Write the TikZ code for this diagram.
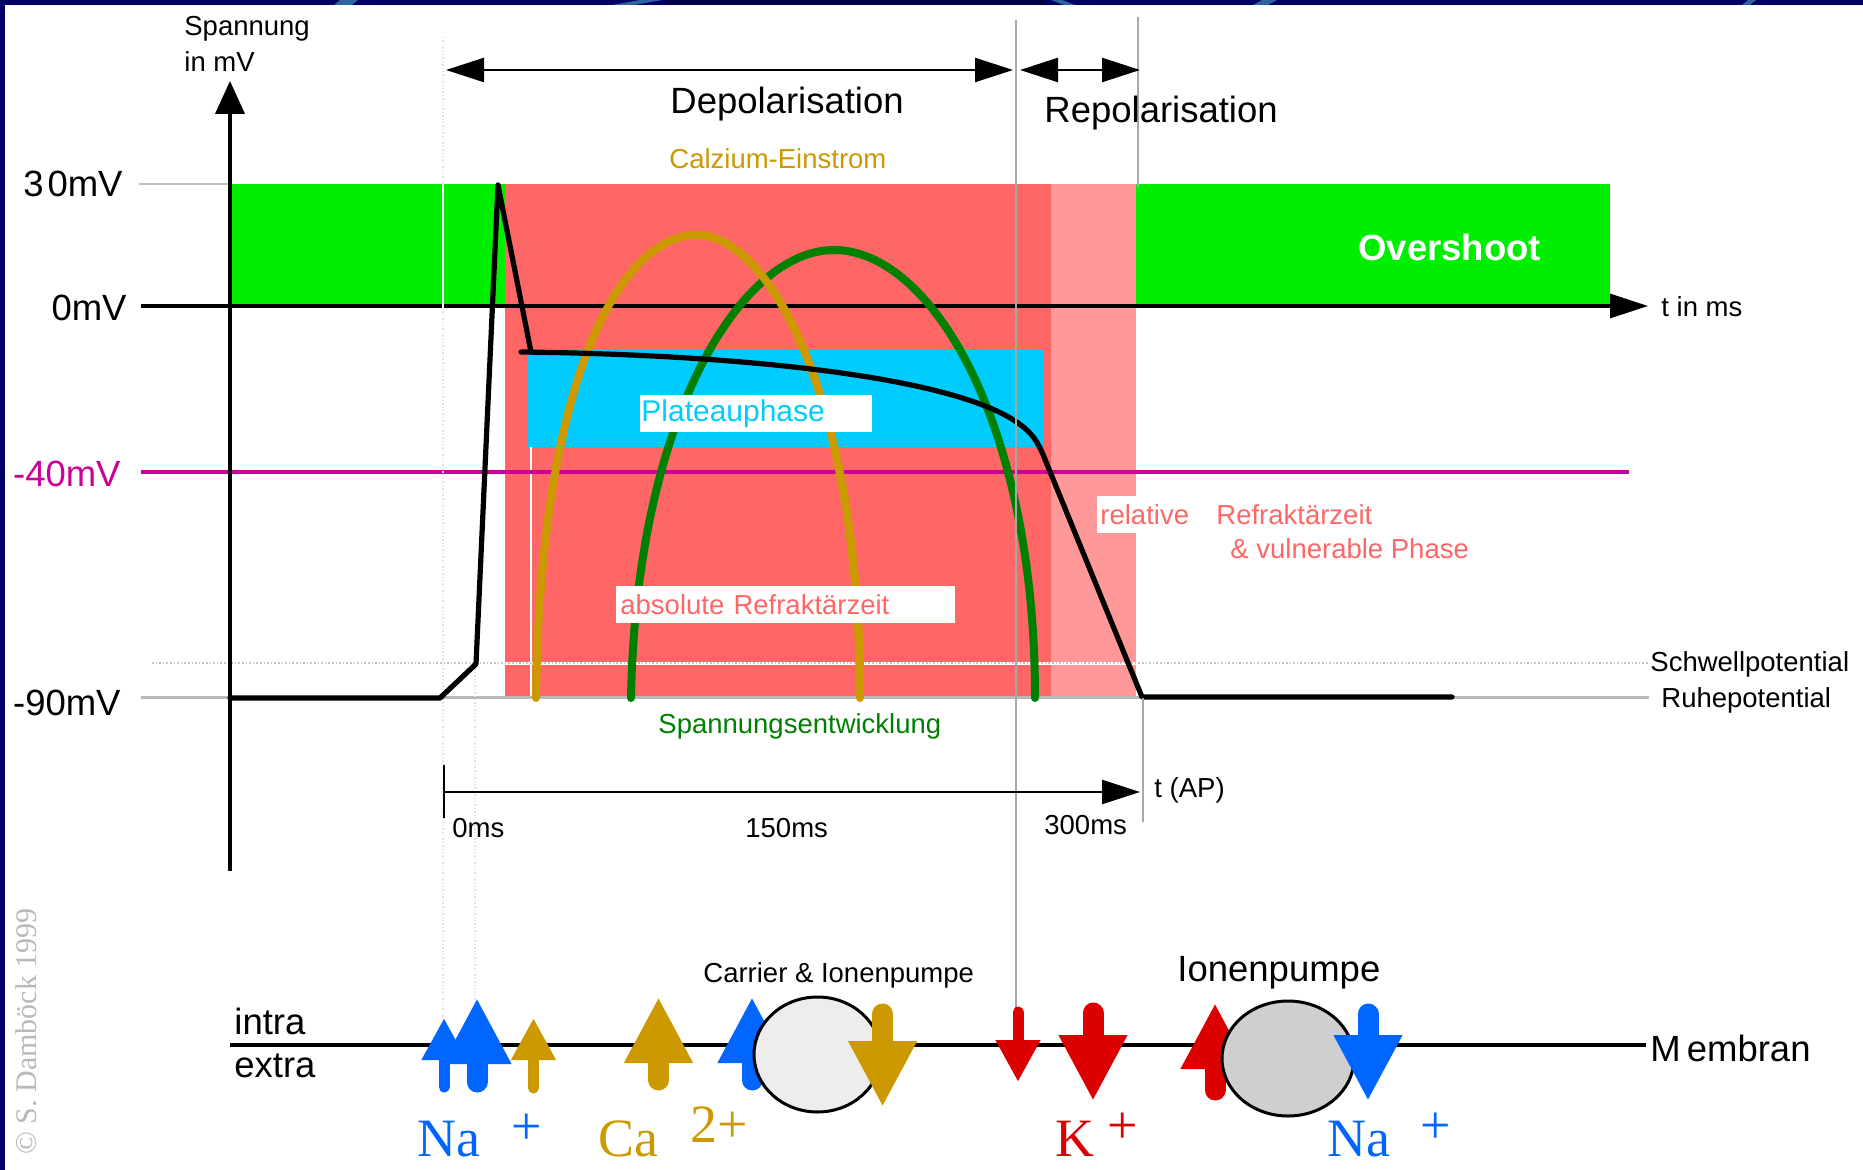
\documentclass[tikz,border=0pt]{standalone}
\usepackage{fontspec}
\setmainfont{Liberation Sans}
\newfontfamily\ionfont{Liberation Serif}
\usetikzlibrary{arrows.meta,shapes.geometric}

\definecolor{navy}{HTML}{000066}
\definecolor{navydark}{HTML}{00004A}
\definecolor{streak}{HTML}{2F639E}
\definecolor{ovgreen}{HTML}{00EE00}
\definecolor{absred}{HTML}{FF6666}
\definecolor{relred}{HTML}{FF9999}
\definecolor{plateaublue}{HTML}{00CCFF}
\definecolor{threshmag}{HTML}{CC0099}
\definecolor{calgold}{HTML}{CC9900}
\definecolor{volgreen}{HTML}{008000}
\definecolor{nablue}{HTML}{0066FF}
\definecolor{kred}{HTML}{DD0000}
\definecolor{guidegray}{HTML}{A8A8A8}
\definecolor{faintblue}{HTML}{D4E4F6}

\newcommand{\headtxt}{\fontsize{18.25pt}{22pt}\selectfont}
\newcommand{\lbltxt}{\fontsize{13.75pt}{16pt}\selectfont}
\newcommand{\iontxt}{\ionfont\fontsize{27pt}{30pt}\selectfont}

\begin{document}
\begin{tikzpicture}[
  x = 0.5pt, y = -0.5pt,
  every node/.style = {inner sep = 0pt, anchor = west},
  big/.style = {font = \headtxt},
  small/.style = {font = \lbltxt},
  ion/.style = {font = \iontxt, anchor = base west},
  tag/.style = {small, fill = white, minimum height = 18.5pt, align = left},
  phasearrow/.style = {line width = 1.2pt, {Triangle[length=19pt,width=12pt]}-{Triangle[length=19pt,width=12pt]}},
  taxis/.style = {line width = 1.6pt, -{Triangle[length=19pt,width=12pt]}},
  guide/.style = {guidegray, line width = 1.3pt},
  faint/.style = {faintblue, line width = 0.7pt, densely dotted},
  apline/.style = {line width = 2.6pt, line cap = round, line join = round},
  ionthin/.style = {line cap = round, line width = 5.5pt, -{Triangle[length=21pt,width=21pt]}},
  ionthick/.style = {line cap = round, line width = 10.5pt, -{Triangle[length=33pt,width=32pt]}},
  pump/.style = {draw, line width = 1.5pt, ellipse, anchor = center},
  ]
  \useasboundingbox (0,0) rectangle (1863,1170);
  \fill[white] (0,0) rectangle (1863,1170);
  \fill[navy] (0,0) rectangle (1863,5);
  \fill[navy] (0,0) rectangle (5,1170);
  \fill[navydark] (665,0) rectangle (1045,5);
  \fill[streak] (340,0) -- (358,0) -- (352,5) -- (334,5) -- cycle;
  \fill[streak] (640,0) -- (662,0) -- (634,5) -- (612,5) -- cycle;
  \fill[streak] (1051,0) -- (1062,0) -- (1075,5) -- (1064,5) -- cycle;
  \fill[streak] (1262,0) -- (1277,0) -- (1268,5) -- (1253,5) -- cycle;
  \fill[streak] (1748,0) -- (1756,0) -- (1750,5) -- (1742,5) -- cycle;

  \fill[ovgreen] (230,184) rectangle (505,308);
  \fill[ovgreen] (1136,184) rectangle (1610,308);
  \fill[absred] (505,184) rectangle (1051,697);
  \fill[relred] (1051,184) rectangle (1136,697);
  \fill[plateaublue] (527,350) rectangle (1043,447);
  \draw[white, line width = 0.8pt] (531,447) -- (531,697);

  \draw[white, line width = 1.5pt] (152,663) -- (1648,663);
  \draw[gray!45, line width = 0.8pt, densely dotted] (152,663) -- (1648,663);
  \draw[gray!55, line width = 1.4pt] (141,697.5) -- (1649,697.5);
  \draw[gray!50, line width = 1.2pt] (139,184) -- (230,184);
  \draw[threshmag, line width = 1.6pt] (141,472) -- (1629,472);

  \coordinate (xstart) at (141,306);
  \coordinate (xend) at (1648,306);
  \draw[taxis] (xstart) -- (xend);
  \coordinate (ybottom) at (230,871);
  \coordinate (ytop) at (230,81);
  \draw[line width = 2pt, -{Triangle[length=16.5pt,width=14.5pt]}] (ybottom) -- (ytop);
  \draw[white, line width = 1.2pt] (443,184) -- (443,308);
  \draw[faint] (443,37) -- (443,184);
  \draw[faint] (443,308) -- (443,1017);
  \draw[faint] (475,665) -- (475,1003);

  \draw[calgold, line width = 4pt, line cap = round]
    (536,698) .. controls (540,380) and (620,235) .. (697,235)
    .. controls (770,235) and (860,400) .. (860,698);
  \draw[volgreen, line width = 4pt, line cap = round]
    (631,698) .. controls (636,420) and (740,250) .. (834,250)
    .. controls (930,250) and (1035,420) .. (1035,698);
  \draw[calgold, line width = 4pt]
    (697,235) .. controls (770,235) and (860,400) .. (860,698);

  \draw[apline] (230,698) -- (440,698) -- (476,664) -- (498,185) -- (531,352);
  \draw[apline] (521,352) .. controls (700,354) and (900,370) .. (990,408)
    .. controls (1030,425) and (1036,440) .. (1042,452) -- (1142,697) -- (1452,697);

  \node[tag, text width = 115pt, inner xsep = 0.5pt, text = plateaublue, font = \fontsize{15pt}{17pt}\selectfont]
    (plateau) at (640,414) {Plateauphase};
  \node[tag, text width = 165.5pt, inner xsep = 2pt, text = absred] (absref) at (616,604.5) {absolute Refraktärzeit};
  \node[tag, inner xsep = 1.5pt, text = absred] (relat) at (1097,515) {relative};
  \node[small, text = absred] (refrak) at (1216,515) {Refraktärzeit};
  \node[small, text = absred] (vuln) at (1230,549) {\& vulnerable Phase};

  \draw[guide] (1016,20) -- (1016,1008);
  \draw[guide] (1138,17) -- (1138,187);
  \draw[guide] (1143,698) -- (1143,822);

  \coordinate (depL) at (446,70);
  \coordinate (depR) at (1013,70);
  \coordinate (repL) at (1020,70);
  \coordinate (repR) at (1140,70);
  \draw[phasearrow] (depL) -- (depR);
  \draw[phasearrow] (repL) -- (repR);
  \coordinate (tapL) at (444,792);
  \coordinate (tapR) at (1140,792);
  \draw[taxis, line width = 1.3pt] (tapL) -- (tapR);
  \draw[line width = 1.2pt] (444,765) -- (444,818);

  \node[small] (spannung) at (184,29) {Spannung};
  \node[small] (inmv) at (184,62) {in mV};
  \node[big, anchor = east] (l30) at (123,184) {3\kern2pt 0mV};
  \node[big, anchor = east] (l0) at (127,308) {0mV};
  \node[big, anchor = east, text = threshmag] (l40) at (121,474) {-40mV};
  \node[big, anchor = east] (l90) at (121,703) {-90mV};
  \node[big] (depol) at (670,104) {Depolarisation};
  \node[big] (repol) at (1044,113) {Repolarisation};
  \node[small, text = calgold] (calz) at (669,159) {Calzium-Einstrom};
  \node[big, text = white, font = \headtxt\bfseries] (overshoot) at (1358,247) {Overshoot};
  \node[small] (tms) at (1661,307) {t in ms};
  \node[small, text = volgreen] (spann) at (658,726) {Spannungsentwicklung};
  \node[small] (schwell) at (1650,664) {Schwellpotential};
  \node[small] (ruhe) at (1661,700) {Ruhepotential};
  \node[small] (tap) at (1154,790) {t (AP)};
  \node[small] (ms0) at (452,828) {0ms};
  \node[small] (ms150) at (745,828) {150ms};
  \node[small] (ms300) at (1044,825) {300ms};

  \draw[line width = 1.6pt] (230,1045) -- (1646,1045);
  \node[big] (intra) at (234,1021) {intra};
  \node[big] (extra) at (234,1066) {extra};
  \node[big] (membran) at (1650,1048) {M\kern3pt embran};
  \node[small] (carrierlbl) at (703,975) {Carrier \& Ionenpumpe};
  \node[big] (pumplbl) at (1177,973) {Ionenpumpe};

  \draw[ionthin, nablue] (444,1087) -- (444,1018);
  \draw[ionthick, nablue] (477,1082) -- (477,998);
  \draw[ionthin, calgold] (533.5,1088) -- (533.5,1018);
  \draw[ionthick, calgold] (658.5,1080) -- (658.5,997);
  \draw[ionthick, nablue] (752,1080) -- (752,997);
  \node[pump, fill = gray!14, minimum width = 63.5pt, minimum height = 57.5pt] (carrier) at (817.5,1054.5) {};
  \draw[ionthick, calgold] (882.6,1014) -- (882.6,1107);
  \draw[ionthin, kred] (1018,1012) -- (1018,1082);
  \draw[ionthick, kred] (1093,1013) -- (1093,1101);
  \draw[ionthick, kred] (1215,1090) -- (1215,1003);
  \node[pump, fill = gray!38, minimum width = 66pt, minimum height = 57.5pt] (ionpump) at (1288,1058.5) {};
  \draw[ionthick, nablue] (1368,1014) -- (1368,1101);

  \node[ion, text = nablue] (na1) at (417,1156) {Na};
  \node[ion, text = nablue] (na1p) at (511,1144) {+};
  \node[ion, text = calgold] (ca) at (598,1156) {Ca};
  \node[ion, text = calgold] (ca2p) at (690,1142) {2+};
  \node[ion, text = kred] (k) at (1055,1156) {K};
  \node[ion, text = kred] (kp) at (1107,1143) {+};
  \node[ion, text = nablue] (na2) at (1327,1156) {Na};
  \node[ion, text = nablue] (na2p) at (1420,1143) {+};

  \node[rotate = 90, anchor = base west, text = gray!55, font = \ionfont\fontsize{15pt}{17pt}\selectfont]
    (copyr) at (36,1155) {© S. Damböck 1999};
\end{tikzpicture}
\end{document}
